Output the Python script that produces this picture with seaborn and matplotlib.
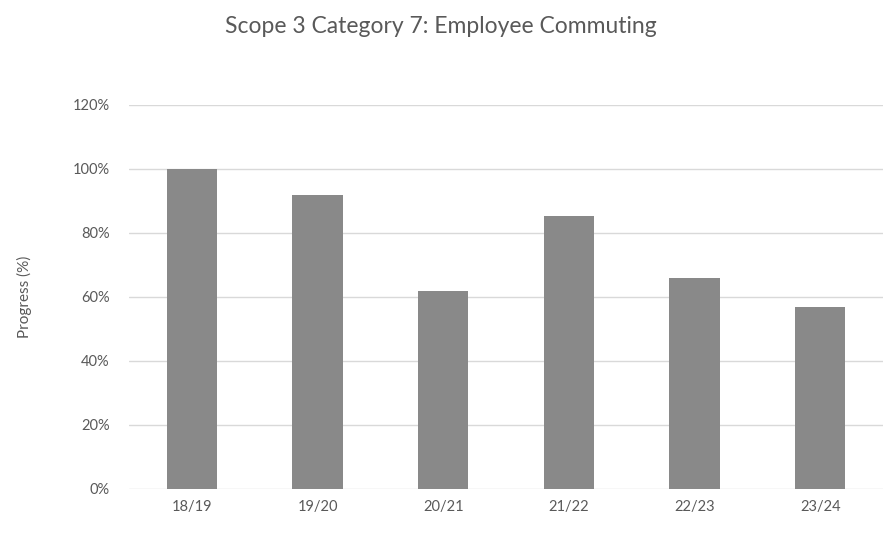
import numpy as np
import matplotlib
matplotlib.use('Agg')
import matplotlib.pyplot as plt
import pandas as pd
import seaborn as sns
from matplotlib.ticker import PercentFormatter

years = ["18/19", "19/20", "20/21", "21/22", "22/23", "23/24"]
progress = [100.0, 91.7, 61.8, 85.2, 65.8, 56.8]

df = pd.DataFrame({"Year": years, "Progress": progress})

sns.set_style("white")
plt.rcParams['font.family'] = ['Lato', 'DejaVu Sans']

fig = plt.figure(figsize=(8.84, 5.34), dpi=100)
ax = fig.add_axes([0.146, 0.0843, 0.853, 0.7197])

sns.barplot(data=df, x="Year", y="Progress", color="#898989", width=0.4,
            saturation=1, linewidth=0, ax=ax, zorder=3)

ax.set_ylim(0, 120)
ax.set_yticks(np.arange(0, 121, 20))
ax.yaxis.set_major_formatter(PercentFormatter(decimals=0))
ax.set_xlim(-0.5, len(years) - 0.5)
ax.grid(axis='y', color="#d9d9d9", linewidth=1, zorder=0)
for s in ax.spines.values():
    s.set_visible(False)
ax.tick_params(axis='both', length=0, labelsize=10.5, colors="#595959")
ax.tick_params(axis='y', pad=14)
ax.tick_params(axis='x', pad=8)
ax.set_xlabel("")
ax.set_ylabel("Progress (%)", fontsize=11, color="#595959", labelpad=29)
fig.text(0.499, 0.95, "Scope 3 Category 7: Employee Commuting", ha='center',
         va='center', fontsize=16.5, color="#595959")

fig.savefig("out.png", dpi=100)
